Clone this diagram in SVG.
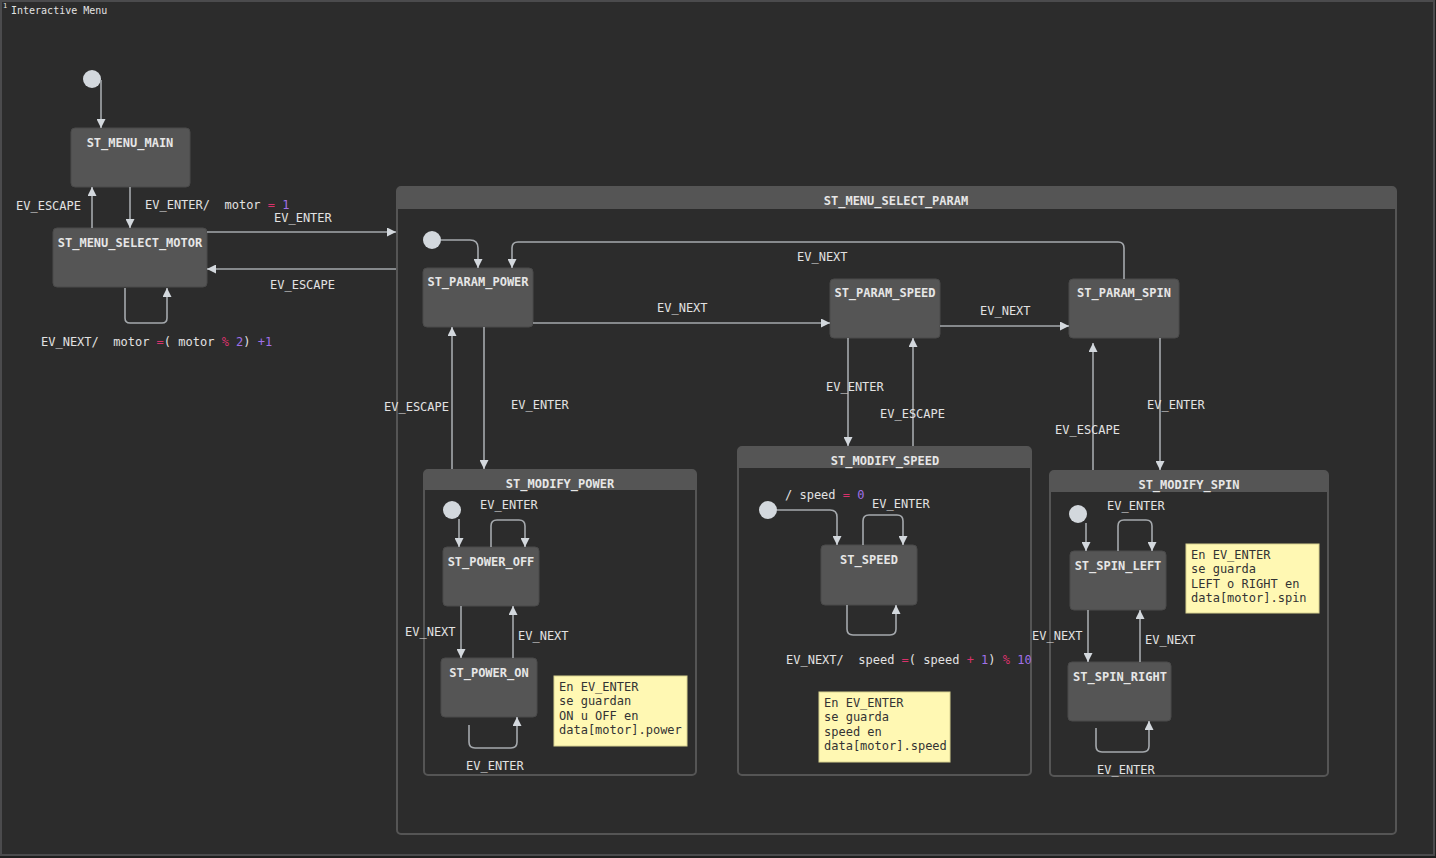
<svg xmlns="http://www.w3.org/2000/svg" width="1436" height="858" viewBox="0 0 1436 858">
  <defs>
    <marker id="arrow" viewBox="0 0 10 10" refX="10" refY="5" markerWidth="10" markerHeight="9" markerUnits="userSpaceOnUse" orient="auto">
      <path d="M0,0 L10,5 L0,10 z" fill="#d3d8dd"/>
    </marker>
    <style>
      text { font-family: "DejaVu Sans Mono", "Liberation Mono", monospace; font-size: 12px; fill: #e2e2e2; }
      .frame { fill: #2c2c2c; stroke: #4b4b4d; stroke-width: 2; }
      .state rect { fill: #555555; stroke: #4a4a4a; stroke-width: 1; }
      .title { font-weight: bold; text-anchor: middle; fill: #e6e6e6; }
      .comp-body { fill: #2c2c2c; stroke: #555555; stroke-width: 2; }
      .comp-head { fill: #555555; }
      .init { fill: #d3d8dd; }
      .edge { fill: none; stroke: #a5a9ad; stroke-width: 1.6; marker-end: url(#arrow); }
      .label { fill: #e2e2e2; }
      .op { fill: #d8326b; }
      .num { fill: #a071e8; }
      .note rect { fill: #fff8b3; stroke: #d8d290; stroke-width: 1; }
      .note text { fill: #333333; }
    </style>
  </defs>

  <!-- canvas and outer frame -->
  <rect x="0" y="0" width="1436" height="858" fill="#1f1f1f"/>
  <rect class="frame" x="1" y="1" width="1433" height="854"/>
  <text x="3" y="8" style="font-size:7px" fill="#cfcfcf">1</text>
  <text x="11" y="14" style="font-size:10px">Interactive Menu</text>

  <!-- composite: ST_MENU_SELECT_PARAM -->
  <g id="ST_MENU_SELECT_PARAM">
    <rect class="comp-body" x="397" y="187" width="999" height="647" rx="4"/>
    <path class="comp-head" d="M397,191 a4,4 0 0 1 4,-4 h991 a4,4 0 0 1 4,4 v18 h-999 z"/>
    <text class="title" x="896" y="205">ST_MENU_SELECT_PARAM</text>
  </g>

  <!-- composite: ST_MODIFY_POWER -->
  <g id="ST_MODIFY_POWER">
    <rect class="comp-body" x="424" y="470" width="272" height="305" rx="4"/>
    <path class="comp-head" d="M424,474 a4,4 0 0 1 4,-4 h264 a4,4 0 0 1 4,4 v16 h-272 z"/>
    <text class="title" x="560" y="488">ST_MODIFY_POWER</text>
  </g>

  <!-- composite: ST_MODIFY_SPEED -->
  <g id="ST_MODIFY_SPEED">
    <rect class="comp-body" x="738" y="447" width="293" height="328" rx="4"/>
    <path class="comp-head" d="M738,451 a4,4 0 0 1 4,-4 h285 a4,4 0 0 1 4,4 v17 h-293 z"/>
    <text class="title" x="885" y="465">ST_MODIFY_SPEED</text>
  </g>

  <!-- composite: ST_MODIFY_SPIN -->
  <g id="ST_MODIFY_SPIN">
    <rect class="comp-body" x="1050" y="471" width="278" height="305" rx="4"/>
    <path class="comp-head" d="M1050,475 a4,4 0 0 1 4,-4 h270 a4,4 0 0 1 4,4 v17 h-278 z"/>
    <text class="title" x="1189" y="489">ST_MODIFY_SPIN</text>
  </g>

  <!-- initial pseudo-states -->
  <g id="init_main"><circle class="init" cx="92" cy="79" r="9"/></g>
  <g id="init_param"><circle class="init" cx="432" cy="240" r="9"/></g>
  <g id="init_power"><circle class="init" cx="452" cy="510" r="9"/></g>
  <g id="init_speed"><circle class="init" cx="768" cy="510" r="9"/></g>
  <g id="init_spin"><circle class="init" cx="1078" cy="514" r="9"/></g>

  <!-- simple states -->
  <g id="ST_MENU_MAIN" class="state">
    <rect x="71" y="128" width="119" height="59" rx="4"/>
    <text class="title" x="130" y="147">ST_MENU_MAIN</text>
  </g>
  <g id="ST_MENU_SELECT_MOTOR" class="state">
    <rect x="53" y="228" width="154" height="59" rx="4"/>
    <text class="title" x="130" y="247">ST_MENU_SELECT_MOTOR</text>
  </g>
  <g id="ST_PARAM_POWER" class="state">
    <rect x="423" y="268" width="110" height="59" rx="4"/>
    <text class="title" x="478" y="286">ST_PARAM_POWER</text>
  </g>
  <g id="ST_PARAM_SPEED" class="state">
    <rect x="830" y="279" width="110" height="59" rx="4"/>
    <text class="title" x="885" y="297">ST_PARAM_SPEED</text>
  </g>
  <g id="ST_PARAM_SPIN" class="state">
    <rect x="1069" y="279" width="110" height="59" rx="4"/>
    <text class="title" x="1124" y="297">ST_PARAM_SPIN</text>
  </g>
  <g id="ST_POWER_OFF" class="state">
    <rect x="443" y="547" width="96" height="59" rx="4"/>
    <text class="title" x="491" y="566">ST_POWER_OFF</text>
  </g>
  <g id="ST_POWER_ON" class="state">
    <rect x="441" y="658" width="96" height="59" rx="4"/>
    <text class="title" x="489" y="677">ST_POWER_ON</text>
  </g>
  <g id="ST_SPEED" class="state">
    <rect x="821" y="545" width="96" height="60" rx="4"/>
    <text class="title" x="869" y="564">ST_SPEED</text>
  </g>
  <g id="ST_SPIN_LEFT" class="state">
    <rect x="1070" y="551" width="96" height="59" rx="4"/>
    <text class="title" x="1118" y="570">ST_SPIN_LEFT</text>
  </g>
  <g id="ST_SPIN_RIGHT" class="state">
    <rect x="1068" y="662" width="103" height="59" rx="4"/>
    <text class="title" x="1120" y="681">ST_SPIN_RIGHT</text>
  </g>

  <!-- notes -->
  <g id="note_power" class="note">
    <rect x="554" y="676" width="133" height="70"/>
    <text x="559" y="691">En EV_ENTER</text>
    <text x="559" y="705">se guardan</text>
    <text x="559" y="720">ON u OFF en</text>
    <text x="559" y="734">data[motor].power</text>
  </g>
  <g id="note_speed" class="note">
    <rect x="819" y="692" width="131" height="70"/>
    <text x="824" y="707">En EV_ENTER</text>
    <text x="824" y="721">se guarda</text>
    <text x="824" y="736">speed en</text>
    <text x="824" y="750">data[motor].speed</text>
  </g>
  <g id="note_spin" class="note">
    <rect x="1186" y="544" width="133" height="69"/>
    <text x="1191" y="559">En EV_ENTER</text>
    <text x="1191" y="573">se guarda</text>
    <text x="1191" y="588">LEFT o RIGHT en</text>
    <text x="1191" y="602">data[motor].spin</text>
  </g>

  <!-- transitions -->
  <g id="connectors">
    <path class="edge" d="M101,80 V128"/>
    <path class="edge" d="M92,228 V187"/>
    <path class="edge" d="M130,187 V228"/>
    <path class="edge" d="M125,288 V318 q0,5 5,5 h32 q5,0 5,-5 V288"/>
    <path class="edge" d="M207,232 H396"/>
    <path class="edge" d="M396,269 H207"/>

    <path class="edge" d="M441,240 H470 q8,0 8,8 V268"/>
    <path class="edge" d="M533,323 H830"/>
    <path class="edge" d="M940,326 H1069"/>
    <path class="edge" d="M1124,279 V248 q0,-6 -6,-6 H518 q-6,0 -6,6 V268"/>
    <path class="edge" d="M484,327 V469"/>
    <path class="edge" d="M452,469 V327"/>
    <path class="edge" d="M848,338 V446"/>
    <path class="edge" d="M913,446 V338"/>
    <path class="edge" d="M1160,338 V470"/>
    <path class="edge" d="M1093,470 V343"/>

    <path class="edge" d="M459,519 V547"/>
    <path class="edge" d="M491,547 V526 q0,-6 6,-6 h22 q6,0 6,6 V547"/>
    <path class="edge" d="M461,606 V658"/>
    <path class="edge" d="M513,658 V606"/>
    <path class="edge" d="M469,725 V742 q0,6 6,6 h36 q6,0 6,-6 V717"/>

    <path class="edge" d="M777,510 H830 q7,0 7,7 V545"/>
    <path class="edge" d="M863,545 V521 q0,-6 6,-6 h28 q6,0 6,6 V545"/>
    <path class="edge" d="M847,605 V629 q0,6 6,6 h37 q6,0 6,-6 V605"/>

    <path class="edge" d="M1086,523 V551"/>
    <path class="edge" d="M1118,551 V526 q0,-6 6,-6 h22 q6,0 6,6 V551"/>
    <path class="edge" d="M1088,610 V662"/>
    <path class="edge" d="M1140,662 V610"/>
    <path class="edge" d="M1096,728 V746 q0,6 6,6 h41 q6,0 6,-6 V721"/>
  </g>

  <!-- transition labels -->
  <g id="labels" transform="translate(0,1)">
    <text x="16" y="209">EV_ESCAPE</text>
    <text x="145" y="208" xml:space="preserve">EV_ENTER/  motor <tspan class="op">=</tspan> <tspan class="num">1</tspan></text>
    <text x="274" y="221">EV_ENTER</text>
    <text x="270" y="288">EV_ESCAPE</text>
    <text x="41" y="345" xml:space="preserve">EV_NEXT/  motor <tspan class="op">=</tspan>( motor <tspan class="op">%</tspan> <tspan class="num">2</tspan>) <tspan class="num">+1</tspan></text>

    <text x="797" y="260">EV_NEXT</text>
    <text x="657" y="311">EV_NEXT</text>
    <text x="980" y="314">EV_NEXT</text>
    <text x="384" y="410">EV_ESCAPE</text>
    <text x="511" y="408">EV_ENTER</text>
    <text x="826" y="390">EV_ENTER</text>
    <text x="880" y="417">EV_ESCAPE</text>
    <text x="1147" y="408">EV_ENTER</text>
    <text x="1055" y="433">EV_ESCAPE</text>

    <text x="480" y="508">EV_ENTER</text>
    <text x="405" y="635">EV_NEXT</text>
    <text x="518" y="639">EV_NEXT</text>
    <text x="466" y="769">EV_ENTER</text>

    <text x="785" y="498" xml:space="preserve">/ speed <tspan class="op">=</tspan> <tspan class="num">0</tspan></text>
    <text x="872" y="507">EV_ENTER</text>
    <text x="786" y="663" xml:space="preserve">EV_NEXT/  speed <tspan class="op">=</tspan>( speed <tspan class="op">+</tspan> <tspan class="num">1</tspan>) <tspan class="op">%</tspan> <tspan class="num">10</tspan></text>

    <text x="1107" y="509">EV_ENTER</text>
    <text x="1032" y="639">EV_NEXT</text>
    <text x="1145" y="643">EV_NEXT</text>
    <text x="1097" y="773">EV_ENTER</text>
  </g>
</svg>
